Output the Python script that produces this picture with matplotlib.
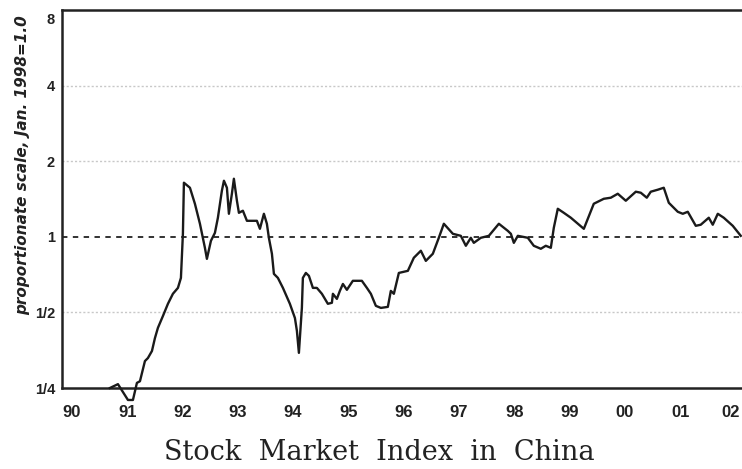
import matplotlib
matplotlib.use("Agg")
import matplotlib.pyplot as plt
import matplotlib.transforms as mtransforms

# Data (decimal year, index with Jan. 1998 = 1.0)
years = [90.687, 90.832, 91.013, 91.103, 91.175, 91.230, 91.320, 91.374, 91.447, 91.501,
         91.555, 91.646, 91.736, 91.826, 91.917, 91.971, 92.007, 92.025, 92.134, 92.224,
         92.315, 92.405, 92.441, 92.514, 92.586, 92.640, 92.712, 92.749, 92.803, 92.839,
         92.893, 92.929, 92.984, 93.020, 93.092, 93.165, 93.345, 93.400, 93.472, 93.526,
         93.562, 93.617, 93.653, 93.725, 93.816, 93.942, 94.033, 94.069, 94.105, 94.159,
         94.177, 94.231, 94.286, 94.358, 94.430, 94.521, 94.629, 94.702, 94.720, 94.792,
         94.846, 94.901, 94.973, 95.081, 95.244, 95.335, 95.407, 95.497, 95.588, 95.714,
         95.768, 95.823, 95.913, 96.076, 96.184, 96.311, 96.401, 96.528, 96.636, 96.727,
         96.890, 97.034, 97.125, 97.215, 97.269, 97.396, 97.541, 97.722, 97.884, 97.939,
         97.993, 98.065, 98.246, 98.354, 98.481, 98.571, 98.662, 98.716, 98.788, 98.897,
         99.024, 99.259, 99.439, 99.620, 99.747, 99.873, 100.018, 100.199, 100.289, 100.398,
         100.470, 100.597, 100.705, 100.796, 100.958, 101.049, 101.139, 101.284, 101.374, 101.519,
         101.591, 101.682, 101.790, 101.953, 102.098]
index = [0.250, 0.259, 0.224, 0.224, 0.262, 0.266, 0.320, 0.329, 0.351, 0.395,
         0.434, 0.484, 0.541, 0.593, 0.626, 0.686, 1.028, 1.642, 1.568, 1.354,
         1.127, 0.904, 0.817, 0.964, 1.037, 1.191, 1.526, 1.672, 1.568, 1.235,
         1.484, 1.703, 1.392, 1.246, 1.270, 1.158, 1.158, 1.076, 1.235, 1.127,
         0.991, 0.856, 0.712, 0.686, 0.626, 0.541, 0.475, 0.422, 0.345, 0.521,
         0.686, 0.718, 0.699, 0.626, 0.626, 0.593, 0.541, 0.546, 0.593, 0.566,
         0.609, 0.649, 0.615, 0.668, 0.668, 0.626, 0.593, 0.531, 0.521, 0.526,
         0.609, 0.593, 0.718, 0.732, 0.825, 0.880, 0.802, 0.856, 0.991, 1.127,
         1.028, 1.009, 0.921, 0.991, 0.946, 0.991, 1.009, 1.127, 1.056, 1.028,
         0.946, 1.009, 0.991, 0.921, 0.896, 0.921, 0.904, 1.086, 1.293, 1.246,
         1.191, 1.076, 1.354, 1.417, 1.431, 1.484, 1.392, 1.512, 1.498, 1.431,
         1.512, 1.540, 1.568, 1.366, 1.258, 1.235, 1.258, 1.106, 1.117, 1.191,
         1.117, 1.235, 1.191, 1.106, 1.009]

y_ticks = [0.25, 0.5, 1, 2, 4, 8]
y_tick_labels = ["1/4", "1/2", "1", "2", "4", "8"]
x_ticks = list(range(90, 103))
x_tick_labels = ["90", "91", "92", "93", "94", "95", "96", "97", "98", "99", "00", "01", "02"]
grid_levels = [0.5, 2, 4]

fig = plt.figure(figsize=(7.42, 4.69), dpi=100)
ax = fig.add_axes([62 / 742, (469 - 388) / 469, (742 - 62) / 742, (388 - 10) / 469])

ax.set_yscale("log", base=2)
ax.set_ylim(0.25, 8)
ax.set_xlim(89.82, 102.12)

for g in grid_levels:
    ax.axhline(g, color="#c8c8c8", lw=1.0, ls=(0, (1.5, 1.5)), zorder=1)
ax.axhline(1, color="#222222", lw=1.3, ls=(0, (3, 3)), zorder=2)

ax.plot(years, index, color="#1a1a1a", lw=1.7, clip_on=False, zorder=3)

ax.set_yticks(y_ticks)
ax.set_yticklabels(y_tick_labels)
ax.yaxis.set_minor_locator(matplotlib.ticker.NullLocator())
ax.set_xticks(x_ticks)
ax.set_xticklabels(x_tick_labels)
ax.tick_params(axis="both", length=0)
ax.tick_params(axis="y", pad=5)
ax.tick_params(axis="x", pad=12)
ylabs = ax.get_yticklabels()
for lab in ylabs:
    lab.set_fontfamily("Liberation Sans")
    lab.set_fontweight("bold")
    lab.set_fontsize(10.5)
    lab.set_color("#222222")
# the top label sits a little below the frame line in the original
ylabs[-1].set_transform(ylabs[-1].get_transform() +
                        mtransforms.ScaledTranslation(0, -8 / 100, fig.dpi_scale_trans))
xlabs = ax.get_xticklabels()
for lab in xlabs:
    lab.set_fontfamily("Liberation Sans")
    lab.set_fontweight("bold")
    lab.set_fontsize(12)
    lab.set_color("#222222")
xlabs[-1].set_transform(xlabs[-1].get_transform() +
                        mtransforms.ScaledTranslation(-5 / 100, 0, fig.dpi_scale_trans))

for side in ["left", "top", "bottom"]:
    ax.spines[side].set_linewidth(1.8)
    ax.spines[side].set_color("#222222")
ax.spines["right"].set_visible(False)

fig.text(23 / 742, 1 - 165 / 469, "proportionate scale, Jan. 1998=1.0",
         rotation=90, ha="center", va="center", fontsize=11,
         fontfamily="DejaVu Sans", fontweight="bold", fontstyle="oblique",
         color="#222222")

fig.text(379 / 742, 1 - 452 / 469, "Stock  Market  Index  in  China",
         ha="center", va="center", fontsize=19.5, fontfamily="DejaVu Serif",
         color="#222222")

fig.savefig("out.png", dpi=100)
